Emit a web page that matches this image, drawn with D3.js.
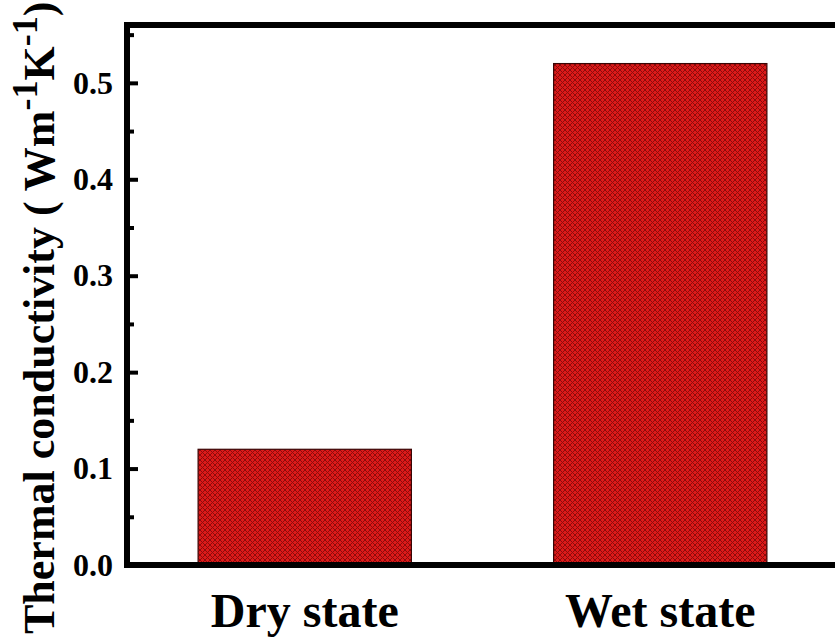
<!DOCTYPE html>
<html>
<head>
<meta charset="utf-8">
<script src="https://cdn.jsdelivr.net/npm/d3@7"></script>
<style>
  html, body { margin: 0; padding: 0; background: #fff; }
  svg { display: block; }
  text { font-family: "Liberation Serif", "Times New Roman", serif; font-weight: bold; fill: #000; }
</style>
</head>
<body>
<svg id="chart" width="835" height="644"></svg>
<script>
// Thermal conductivity of the material in its two states
const categories = ["Dry state", "Wet state"];
const conductivity = [0.12, 0.52];
const majorTicks = [0.0, 0.1, 0.2, 0.3, 0.4, 0.5];
const minorTicks = [0.05, 0.15, 0.25, 0.35, 0.45, 0.55];
const yMax = 0.56;

const svg = d3.select("#chart");

// plot frame (right edge lies just past the visible canvas)
const frame = { left: 127, right: 838, top: 25, bottom: 565 };

const x = d3.scaleBand()
  .domain(categories)
  .range([frame.left, frame.right])
  .paddingInner(0.4)
  .paddingOuter(0.2);

const y = d3.scaleLinear()
  .domain([0, yMax])
  .range([frame.bottom, frame.top]);

// cross-hatched red fill for the bars
const defs = svg.append("defs");
const pat = defs.append("pattern")
  .attr("id", "hatch")
  .attr("patternUnits", "userSpaceOnUse")
  .attr("width", 5)
  .attr("height", 5);
pat.append("rect").attr("width", 5).attr("height", 5).attr("fill", "#dc1a1a");
pat.append("path")
  .attr("d", "M0,0 L5,5 M5,0 L0,5 M-1,4 L1,6 M4,-1 L6,1 M-1,1 L1,-1 M4,6 L6,4")
  .attr("stroke", "#8c0c0c")
  .attr("stroke-width", 1)
  .attr("fill", "none");

// bars
svg.append("g")
  .selectAll("rect")
  .data(categories)
  .join("rect")
  .attr("x", d => x(d))
  .attr("width", x.bandwidth())
  .attr("y", (d, i) => y(conductivity[i]))
  .attr("height", (d, i) => y(0) - y(conductivity[i]))
  .attr("fill", "url(#hatch)")
  .attr("stroke", "#3a0505")
  .attr("stroke-width", 1.2);

// minor ticks (inward)
const yMinor = svg.append("g")
  .attr("transform", `translate(${frame.left},0)`)
  .call(d3.axisLeft(y).tickValues(minorTicks).tickSizeInner(-7).tickSizeOuter(0).tickFormat(""));
yMinor.select(".domain").remove();
yMinor.selectAll(".tick line").attr("stroke", "#000").attr("stroke-width", 4);

// major ticks (inward) with labels
const yAxis = svg.append("g")
  .attr("transform", `translate(${frame.left},0)`)
  .call(d3.axisLeft(y).tickValues(majorTicks).tickSizeInner(-11).tickSizeOuter(0)
    .tickPadding(14).tickFormat(d3.format(".1f")));
yAxis.select(".domain").remove();
yAxis.selectAll(".tick line").attr("stroke", "#000").attr("stroke-width", 4);
yAxis.selectAll(".tick text")
  .attr("font-size", 32)
  .attr("font-family", "Liberation Serif, serif")
  .attr("font-weight", "bold")
  .attr("fill", "#000");

// category labels
const xAxis = svg.append("g")
  .attr("transform", `translate(0,${frame.bottom})`)
  .call(d3.axisBottom(x).tickSize(0).tickPadding(0));
xAxis.select(".domain").remove();
xAxis.selectAll(".tick text")
  .attr("dy", null)
  .attr("y", 62)
  .attr("font-size", 48)
  .attr("font-family", "Liberation Serif, serif")
  .attr("font-weight", "bold")
  .attr("fill", "#000");

// heavy frame
svg.append("rect")
  .attr("x", frame.left)
  .attr("y", frame.top)
  .attr("width", frame.right - frame.left)
  .attr("height", frame.bottom - frame.top)
  .attr("fill", "none")
  .attr("stroke", "#000")
  .attr("stroke-width", 6);

// y-axis title with superscripts
const title = svg.append("text")
  .attr("transform", "translate(54,634) rotate(-90)")
  .attr("x", 0)
  .attr("y", 0)
  .attr("font-size", 44)
  .attr("text-anchor", "start");
title.append("tspan").text("Thermal conductivity ( Wm");
title.append("tspan").attr("font-size", 36).attr("dy", -17).text("-1");
title.append("tspan").attr("dy", 17).text("K");
title.append("tspan").attr("font-size", 36).attr("dy", -17).text("-1");
title.append("tspan").attr("dy", 17).text(")");
</script>
</body>
</html>
